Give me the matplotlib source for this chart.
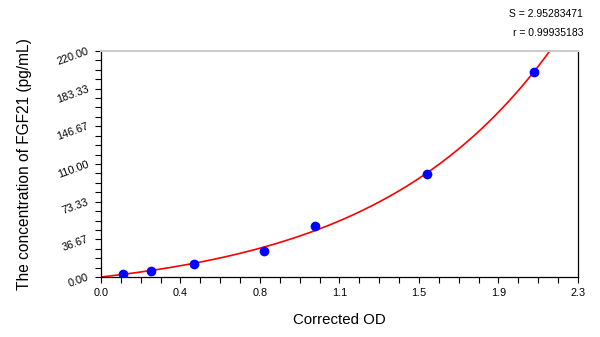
import numpy as np
import matplotlib.pyplot as plt
from matplotlib.ticker import AutoMinorLocator, FixedLocator

plt.rcParams['font.family'] = ['Liberation Sans', 'DejaVu Sans']

# standard curve: corrected OD vs concentration
od = [0.106, 0.241, 0.448, 0.786, 1.032, 1.570, 2.088]
conc = [3.125, 6.25, 12.5, 25, 50, 100, 200]
s_value = "2.95283471"
r_value = "0.99935183"

x_max = 2.3
y_max = 220.0
x_ticks = np.linspace(0, x_max, 7)
y_ticks = np.linspace(0, y_max, 7)

# fit y = A*(exp(kx)-1) by scanning k
xa = np.array(od)
ya = np.array(conc)
best = None
for k in np.linspace(0.5, 2.5, 2001):
    g = np.exp(k * xa) - 1
    A = (ya * g).sum() / (g * g).sum()
    err = ((A * g - ya) ** 2).sum()
    if best is None or err < best[0]:
        best = (err, k, A)
_, k_fit, A_fit = best
xs = np.linspace(0, x_max, 400)
ys = A_fit * (np.exp(k_fit * xs) - 1)

fig = plt.figure(figsize=(6, 3.37), dpi=100)
ax = fig.add_axes([0.1683, 0.178, 0.795, 0.6707])

ax.plot(xs, ys, color='red', lw=1.2, zorder=2)
ax.plot(od, conc, 'o', color='#0000ff', markersize=7, markeredgewidth=0, zorder=3)

ax.set_xlim(0, x_max)
ax.set_ylim(0, y_max)
ax.xaxis.set_major_locator(FixedLocator(x_ticks))
ax.yaxis.set_major_locator(FixedLocator(y_ticks))
ax.set_xticklabels([f"{v:.1f}" for v in x_ticks])
ax.set_yticklabels([f"{v:.2f}" for v in y_ticks], rotation=20,
                   rotation_mode='anchor', ha='right', va='center')
ax.xaxis.set_minor_locator(AutoMinorLocator(4))
ax.yaxis.set_minor_locator(AutoMinorLocator(4))
ax.tick_params(which='both', direction='out', length=4, width=0.8,
               labelsize=7.8, top=False, right=False)
ax.tick_params(axis='x', pad=4)
ax.tick_params(axis='y', pad=5)

for side in ['left', 'bottom', 'right']:
    ax.spines[side].set_color('black')
    ax.spines[side].set_linewidth(0.9)
ax.spines['top'].set_color('#cccccc')
ax.spines['top'].set_linewidth(1.5)

ax.set_xlabel('Corrected OD', fontsize=10.8, labelpad=11)
ax.set_ylabel('The concentration of FGF21 (pg/mL)', fontsize=11.2, labelpad=17)

fig.text(0.972, 0.958, f"S = {s_value}", ha='right', va='center', fontsize=7.5)
fig.text(0.972, 0.902, f"r = {r_value}", ha='right', va='center', fontsize=7.5)

fig.savefig('out.png', dpi=100)
